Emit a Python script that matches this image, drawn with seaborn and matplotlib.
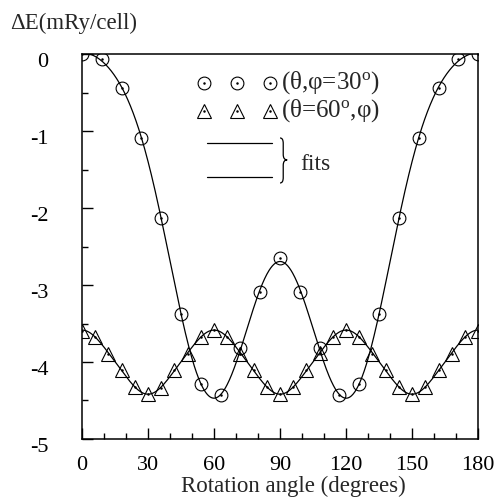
import numpy as np
import matplotlib
matplotlib.use("Agg")
import matplotlib.pyplot as plt
import matplotlib.transforms as mtransforms
from matplotlib.path import Path
from matplotlib.patches import PathPatch
from matplotlib.lines import Line2D
import seaborn as sns

# ---- data ----
angle_circ = [0, 9, 18, 27, 36, 45, 54, 63, 72, 81, 90,
              99, 108, 117, 126, 135, 144, 153, 162, 171, 180]
dE_circ = [0.0, -0.06, -0.44, -1.09, -2.13, -3.38, -4.28, -4.43, -3.82, -3.09, -2.65,
           -3.09, -3.82, -4.43, -4.28, -3.38, -2.13, -1.09, -0.44, -0.07, 0.0]

angle_tri = list(range(0, 181, 6))
dE_tri = [-3.60, -3.67, -3.89, -4.10, -4.33, -4.41, -4.34, -4.11, -3.89, -3.67,
          -3.58, -3.67, -3.89, -4.11, -4.33, -4.41, -4.33, -4.11, -3.88, -3.67,
          -3.58, -3.67, -3.89, -4.10, -4.33, -4.41, -4.33, -4.10, -3.89, -3.67, -3.60]

xticks = [0, 30, 60, 90, 120, 150, 180]
yticks = [0, -1, -2, -3, -4, -5]
label_circ = "(\u03b8,\u03c6=30$^{\\rm o}$)"
label_tri = "(\u03b8=60$^{\\rm o}$,\u03c6)"
label_fit = "fits"
xlabel = "Rotation angle (degrees)"
ylabel = "\u0394E(mRy/cell)"


def fourier_fit(x, y, step, nharm, n=721):
    t = np.deg2rad(np.asarray(x, float))
    A = np.column_stack([np.cos(k * step * t) for k in range(nharm)])
    c = np.linalg.lstsq(A, np.asarray(y, float), rcond=None)[0]
    xf = np.linspace(0, 180, n)
    tf = np.deg2rad(xf)
    yf = np.column_stack([np.cos(k * step * tf) for k in range(nharm)]) @ c
    return xf, yf


sns.set_style("ticks")
plt.rcParams["font.family"] = ["Liberation Serif", "DejaVu Serif"]
plt.rcParams["mathtext.fontset"] = "custom"
plt.rcParams["mathtext.rm"] = "Liberation Serif"
plt.rcParams["mathtext.it"] = "Liberation Serif:italic"

fig = plt.figure(figsize=(4.97, 4.98), dpi=100)
ax = fig.add_axes([0.165, 0.1185, 0.797, 0.773])

CS, TS = 9.2, 9.4

xf1, yf1 = fourier_fit(angle_circ, dE_circ, 2, 7)
xf2, yf2 = fourier_fit(angle_tri, dE_tri, 6, 4)
sns.lineplot(x=xf1, y=yf1, color="k", lw=0.9, ax=ax, estimator=None, sort=False)
sns.lineplot(x=xf2, y=yf2, color="k", lw=0.9, ax=ax, estimator=None, sort=False)

sns.lineplot(x=angle_circ, y=dE_circ, ax=ax, estimator=None, linestyle="none",
             marker="o", markersize=CS, markerfacecolor="none",
             markeredgecolor="k", markeredgewidth=0.8)
sns.lineplot(x=angle_tri, y=dE_tri, ax=ax, estimator=None, linestyle="none",
             marker="^", markersize=TS, markerfacecolor="none",
             markeredgecolor="k", markeredgewidth=0.8)
for xs, ys in ((angle_circ, dE_circ), (angle_tri, dE_tri)):
    sns.lineplot(x=xs, y=ys, ax=ax, estimator=None, linestyle="none",
                 marker="o", markersize=1.8, color="k", markeredgewidth=0)

ax.set_xlim(0, 180)
ax.set_ylim(-5, 0)
ax.set_xticks(xticks)
ax.set_xticklabels([str(v) for v in xticks])
ax.set_xticks(np.arange(0, 181, 10), minor=True)
ax.set_yticks(yticks)
ax.set_yticklabels([str(v) for v in yticks])
ax.set_yticks(np.arange(-5, 0.01, 0.5), minor=True)
ax.set_xlabel("")
ax.set_ylabel("")
ax.tick_params(which="both", direction="in", top=False, right=False,
               colors="k", labelsize=16)
ax.tick_params(which="major", length=8, width=1.0)
ax.tick_params(which="minor", length=4.5, width=1.0)
ax.tick_params(axis="x", which="major", pad=12)
ax.tick_params(axis="y", which="major", pad=24)
for sp in ax.spines.values():
    sp.set_visible(True)
    sp.set_linewidth(1.1)
    sp.set_color("k")

off = mtransforms.ScaledTranslation(0, -6 / 100, fig.dpi_scale_trans)
for lab in ax.get_yticklabels():
    lab.set_transform(lab.get_transform() + off)

# legend (custom layout)
T = ax.transAxes
leg_x = [0.308, 0.391, 0.475]
for yy, mk, ms in ((0.925, "o", CS), (0.853, "^", TS)):
    ax.add_line(Line2D(leg_x, [yy] * 3, transform=T, ls="none", marker=mk,
                       markersize=ms, mfc="none", mec="k", mew=0.8))
    ax.add_line(Line2D(leg_x, [yy] * 3, transform=T, ls="none", marker="o",
                       markersize=1.8, color="k", mew=0))
ax.text(0.502, 0.925, label_circ, transform=T, fontsize=18, va="center", ha="left")
ax.text(0.502, 0.853, label_tri, transform=T, fontsize=18, va="center", ha="left")
for yy in (0.770, 0.681):
    ax.add_line(Line2D([0.316, 0.480], [yy, yy], transform=T, color="k", lw=0.9))
x0, xm, xt = 0.500, 0.508, 0.518
yt, ymid, yb = 0.782, 0.725, 0.665
d = 0.014
verts = [(x0, yt), (xm, yt), (xm, yt - d),
         (xm, ymid + d), (xm, ymid), (xt, ymid),
         (xm, ymid), (xm, ymid - d),
         (xm, yb + d), (xm, yb), (x0, yb)]
codes = [Path.MOVETO, Path.CURVE3, Path.CURVE3,
         Path.LINETO, Path.CURVE3, Path.CURVE3,
         Path.CURVE3, Path.CURVE3,
         Path.LINETO, Path.CURVE3, Path.CURVE3]
ax.add_patch(PathPatch(Path(verts, codes), transform=T, fc="none", ec="k", lw=0.9))
ax.text(0.55, 0.714, label_fit, transform=T, fontsize=17, va="center", ha="left")

fig.text(293.5 / 497, 1 - 492 / 498, xlabel, fontsize=16.5, ha="center", va="baseline")
fig.text(10 / 497, 1 - 29.5 / 498, ylabel, fontsize=16.5, ha="left", va="baseline")

fig.savefig("out.png", dpi=100)
